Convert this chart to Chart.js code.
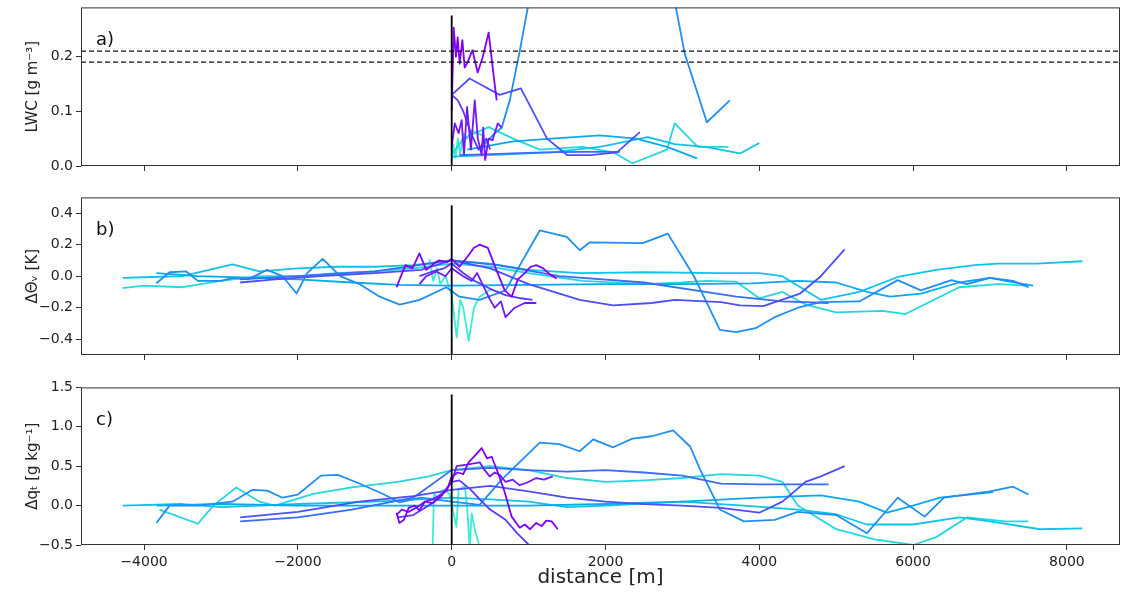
<!DOCTYPE html>
<html>
<head>
<meta charset="utf-8">
<script src="https://cdn.jsdelivr.net/npm/chart.js@4.4.0/dist/chart.umd.min.js"></script>
<style>
  body { margin: 0; background: #fff; overflow: hidden; }
  .panel { position: absolute; left: 0; }
</style>
</head>
<body>
<div class="panel" style="top:-4px"><canvas id="panelA" width="1122" height="194"></canvas></div>
<div class="panel" style="top:186px"><canvas id="panelB" width="1122" height="194"></canvas></div>
<div class="panel" style="top:376px"><canvas id="panelC" width="1122" height="216"></canvas></div>
<script>
// axes
const distMin = -4820, distMax = 8690;
const distTicks = [-4000, -2000, 0, 2000, 4000, 6000, 8000];
const lwcTicks = [0, 0.1, 0.2];
const thetaTicks = [-0.4, -0.2, 0, 0.2, 0.4];
const qTicks = [-0.5, 0, 0.5, 1.0, 1.5];
const lwcThresholds = [0.19, 0.21];

// colour position of each flight on the rainbow map
const flightShades = [0, 0.03, 0.07, 0.10, 0.14, 0.19, 0.23, 0.28, 0.32, 0.37];

// [distance m, value] per flight and panel
const f0Lwc = [[0,0.1],[26,0.253],[55,0.2],[78,0.235],[104,0.187],[139,0.23],[169,0.18],[208,0.19],[269,0.212],[338,0.171],[403,0.199],[481,0.244],[533,0.18],[585,0.12]];
const f0Theta = [[-716,-0.07],[-660,0.0],[-600,0.07],[-510,0.05],[-420,0.145],[-330,0.04],[-230,0.08],[-170,0.1],[-60,0.09],[0,0.11],[100,0.06],[200,0.12],[290,0.18],[364,0.2],[470,0.18],[580,0.04],[690,-0.09],[780,-0.13],[860,-0.02],[950,0.02],[1030,0.06],[1100,0.07],[1190,0.05],[1280,0.01],[1366,-0.015]];
const f0Q = [[-716,-0.09],[-680,-0.22],[-620,-0.18],[-560,-0.03],[-480,0.0],[-420,-0.06],[-350,0.05],[-250,0.03],[-150,0.12],[-60,0.2],[0,0.37],[80,0.42],[150,0.4],[220,0.55],[300,0.63],[390,0.73],[460,0.6],[520,0.62],[600,0.42],[680,0.2],[780,-0.14],[840,-0.22],[885,-0.28],[950,-0.24],[1020,-0.3],[1100,-0.22],[1170,-0.26],[1230,-0.19],[1300,-0.2],[1379,-0.3]];

const f1Lwc = [[0,0.035],[40,0.078],[90,0.06],[130,0.084],[160,0.02],[200,0.108],[250,0.03],[300,0.12],[340,0.05],[390,0.02],[410,0.07],[435,0.011],[480,0.05],[530,0.047],[600,0.078],[650,0.07]];
const f1Theta = [[-420,-0.05],[-330,0.0],[-200,0.03],[-80,0.0],[0,0.05],[150,0.0],[260,-0.03],[330,0.02],[400,-0.05],[500,-0.15],[560,-0.2],[640,-0.16],[700,-0.26],[820,-0.2],[950,-0.17],[1100,-0.17]];
const f1Q = [[-720,-0.12],[-650,-0.05],[-560,-0.08],[-450,-0.02],[-350,0.05],[-250,0.08],[-120,0.15],[0,0.3],[65,0.5],[200,0.52],[364,0.55],[430,0.45],[494,0.37],[560,0.42],[624,0.39],[700,0.3],[794,0.33],[880,0.26],[976,0.29],[1100,0.35],[1200,0.33],[1314,0.37]];

const f2Lwc = [[0,0.13],[80,0.12],[150,0.1],[250,0.06],[350,0.03],[450,0.05],[500,0.03]];
const f2Theta = [[-420,0.0],[-250,0.03],[-100,0.05],[0,0.08],[150,0.02],[300,-0.03],[500,-0.08],[700,-0.12],[900,-0.14],[1050,-0.15]];
const f2Q = [[-700,-0.15],[-500,-0.12],[-300,0.0],[-150,0.1],[0,0.3],[100,0.32],[250,0.2],[364,0.08],[500,-0.05],[700,-0.18],[850,-0.35],[976,-0.47],[1050,-0.55]];

const f3Lwc = [[0,0.13],[234,0.16],[364,0.15],[624,0.13],[900,0.142],[1240,0.05],[1500,0.02],[1800,0.02],[2150,0.025],[2446,0.062]];
const f3Theta = [[-2750,-0.04],[-2300,-0.02],[-1700,0.0],[-1000,0.02],[-400,0.04],[0,0.1],[500,0.05],[1000,-0.05],[1665,-0.15],[2100,-0.185],[2600,-0.17],[2900,-0.15],[3500,-0.165],[3750,-0.185],[4050,-0.19],[4530,-0.11],[4800,0.0],[5110,0.17]];
const f3Q = [[-2750,-0.15],[-2000,-0.08],[-1200,0.05],[-500,0.12],[0,0.2],[500,0.25],[1000,0.18],[1500,0.1],[2000,0.05],[2500,0.02],[3000,0.0],[3500,-0.03],[4000,-0.09],[4300,0.05],[4600,0.3],[4800,0.37],[5110,0.5]];

const f4Lwc = [[100,0.02],[600,0.022],[1200,0.025],[1700,0.026],[2186,0.026]];
const f4Theta = [[-2750,-0.02],[-2000,0.0],[-1000,0.03],[0,0.1],[600,0.07],[1400,0.0],[2500,-0.04],[3300,-0.1],[3700,-0.13],[4300,-0.16],[4900,-0.17]];
const f4Q = [[-2750,-0.2],[-2000,-0.15],[-1300,-0.05],[-500,0.1],[0,0.45],[500,0.48],[1000,0.45],[1500,0.43],[2000,0.45],[2500,0.42],[3000,0.38],[3500,0.28],[4000,0.27],[4900,0.27]];

const f5Lwc = [[364,0.03],[560,0.06],[650,0.07],[755,0.12],[885,0.21],[990,0.29],[1200,0.45],[2000,0.7],[2600,0.6],[2901,0.3],[3031,0.205],[3318,0.08],[3617,0.12]];
const f5Theta = [[-3840,-0.045],[-3670,0.025],[-3450,0.03],[-3300,-0.03],[-3000,-0.03],[-2850,-0.01],[-2650,-0.02],[-2400,0.04],[-2200,0.0],[-2017,-0.11],[-1880,0.02],[-1678,0.11],[-1450,0.0],[-1200,-0.05],[-937,-0.13],[-677,-0.18],[-416,-0.15],[-70,-0.07],[100,-0.13],[364,-0.15],[700,-0.09],[1145,0.29],[1496,0.25],[1665,0.165],[1795,0.215],[2485,0.21],[2810,0.27],[3150,0.0],[3487,-0.34],[3700,-0.355],[3950,-0.33],[4200,-0.26],[4500,-0.2],[4800,-0.165],[5300,-0.16],[5800,-0.025],[6100,-0.09],[6500,-0.025],[6700,-0.05],[7000,-0.01],[7300,-0.03],[7500,-0.07]];
const f5Q = [[-3840,-0.22],[-3669,0.0],[-3300,0.0],[-2850,0.05],[-2590,0.2],[-2400,0.19],[-2200,0.1],[-2000,0.14],[-1700,0.38],[-1480,0.39],[-1200,0.28],[-900,0.15],[-677,0.04],[-400,0.1],[0,0.05],[364,0.01],[650,0.33],[1145,0.8],[1400,0.78],[1665,0.69],[1840,0.84],[2100,0.74],[2350,0.85],[2600,0.88],[2880,0.955],[3100,0.75],[3230,0.46],[3487,-0.05],[3800,-0.2],[4200,-0.18],[4500,-0.08],[5000,-0.12],[5400,-0.35],[5800,0.1],[6150,-0.14],[6400,0.1],[7000,0.18],[7300,0.24],[7500,0.14]];

const f6Lwc = [[200,0.03],[800,0.045],[1300,0.05],[1925,0.056],[2400,0.05],[2800,0.035],[3190,0.014]];
const f6Theta = [[-3840,0.02],[-3300,0.0],[-2500,-0.01],[-2000,-0.02],[-1300,-0.04],[-677,-0.055],[0,-0.06],[1000,-0.055],[2000,-0.05],[3000,-0.05],[3900,-0.045],[4500,-0.03],[5000,-0.04],[5400,-0.1],[5700,-0.13],[6100,-0.11],[6600,-0.04],[7000,-0.01],[7200,-0.03],[7560,-0.06]];
const f6Q = [[-3840,0.0],[-3000,0.02],[-2000,0.0],[-1000,0.0],[0,0.0],[1000,0.0],[2000,0.02],[3000,0.05],[4000,0.1],[4800,0.13],[5300,0.05],[5660,-0.09],[6000,0.0],[6350,0.1],[7040,0.17]];

const f7Lwc = [[0,0.017],[500,0.02],[1300,0.025],[1925,0.035],[2550,0.053],[2900,0.04],[3300,0.035],[3750,0.023],[4000,0.042]];
const f7Theta = [[-4280,-0.01],[-3900,-0.005],[-3500,0.0],[-2850,0.075],[-2500,0.03],[-2000,0.05],[-1500,0.06],[-1000,0.06],[-500,0.07],[0,0.1],[500,0.08],[1000,0.04],[1665,0.02],[2500,0.025],[3500,0.02],[4000,0.02],[4300,0.0],[4800,-0.15],[5300,-0.1],[5800,-0.005],[6300,0.04],[6800,0.07],[7100,0.08],[7600,0.08],[8200,0.095]];
const f7Q = [[-4280,0.0],[-3500,0.02],[-3000,-0.02],[-2500,0.0],[-2000,0.02],[-1000,0.05],[0,0.1],[500,0.08],[1000,0.05],[1500,-0.02],[2000,0.0],[3000,0.05],[3800,0.0],[4500,-0.05],[5000,-0.11],[5400,-0.24],[6000,-0.24],[6600,-0.15],[7000,-0.2],[7650,-0.3],[8200,-0.29]];

const f8Lwc = [[0,0.02],[150,0.05],[300,0.06],[481,0.071],[800,0.05],[1145,0.03],[1700,0.035],[2100,0.025],[2350,0.005],[2800,0.03],[2900,0.078],[3200,0.035],[3600,0.035]];
const f8Theta = [[-4280,-0.075],[-4000,-0.06],[-3500,-0.07],[-3000,-0.03],[-2500,0.0],[-2000,0.0],[-1500,0.02],[-1000,0.03],[-500,0.05],[0,0.08],[500,0.06],[1000,0.02],[1700,-0.03],[2500,-0.05],[3000,-0.04],[3300,-0.03],[3700,-0.035],[4000,-0.14],[4300,-0.1],[4600,-0.18],[5000,-0.23],[5600,-0.22],[5900,-0.24],[6600,-0.07],[7100,-0.05],[7500,-0.06]];
const f8Q = [[-3800,-0.05],[-3300,-0.23],[-3100,0.0],[-2800,0.23],[-2500,0.05],[-2300,0.0],[-1800,0.15],[-1300,0.23],[-700,0.3],[-300,0.37],[0,0.45],[500,0.5],[1000,0.45],[1500,0.35],[2000,0.3],[2500,0.32],[3000,0.35],[3500,0.4],[4000,0.38],[4300,0.3],[4500,0.0],[5000,-0.3],[5500,-0.43],[6000,-0.5],[6300,-0.4],[6700,-0.15],[7200,-0.2],[7500,-0.2]];

const f9Lwc = [[0,0.01],[20,0.04],[50,0.015],[80,0.05],[110,0.02],[150,0.06],[200,0.05],[260,0.065],[330,0.06],[420,0.055]];
const f9Theta = [[-290,0.11],[-240,-0.03],[-190,0.05],[-150,-0.05],[-80,0.0],[0,-0.12],[65,-0.39],[110,-0.15],[150,-0.2],[221,-0.41],[290,-0.2],[364,-0.13],[520,-0.08]];
const f9Q = [[-250,-0.6],[-230,0.15],[-180,0.1],[-110,0.2],[-30,0.15],[60,-0.27],[90,0.2],[170,0.25],[200,0.0],[234,-0.55],[260,-0.1],[300,-0.3],[370,-0.55]];

const lwcLines = [f0Lwc, f1Lwc, f2Lwc, f3Lwc, f4Lwc, f5Lwc, f6Lwc, f7Lwc, f8Lwc, f9Lwc];
const thetaLines = [f0Theta, f1Theta, f2Theta, f3Theta, f4Theta, f5Theta, f6Theta, f7Theta, f8Theta, f9Theta];
const qLines = [f0Q, f1Q, f2Q, f3Q, f4Q, f5Q, f6Q, f7Q, f8Q, f9Q];

// x = 0 marker in each panel
const zeroA = [[0, 0], [0, 0.275]];
const zeroB = [[0, -0.5], [0, 0.45]];
const zeroC = [[0, -0.5], [0, 1.41]];

function rainbow(t) {
  const r = Math.round(255 * Math.abs(2 * t - 0.5));
  const g = Math.round(255 * Math.sin(Math.PI * t));
  const b = Math.round(255 * Math.cos(Math.PI * t / 2));
  return `rgb(${r},${g},${b})`;
}

const pts = arr => arr.map(([x, y]) => ({ x, y }));
const fmt = v => v.toFixed(1).replace('-', '\u2212');

function lineSets(lines) {
  return lines.map((l, i) => ({
    data: pts(l),
    borderColor: rainbow(flightShades[i]),
    borderWidth: 1.8,
    pointRadius: 0,
    tension: 0,
    borderJoinStyle: 'round'
  }));
}

function frameAndLabel(label) {
  return {
    id: 'frame',
    afterDatasetsDraw(chart) {
      const { ctx, chartArea: a } = chart;
      ctx.save();
      ctx.strokeStyle = '#333';
      ctx.lineWidth = 1;
      ctx.strokeRect(a.left + 0.5, a.top + 0.5, a.right - a.left - 1, a.bottom - a.top - 1);
      ctx.fillStyle = '#111';
      ctx.font = '18px "DejaVu Sans"';
      ctx.textBaseline = 'alphabetic';
      ctx.fillText(label, a.left + 15, a.top + 38);
      ctx.restore();
    }
  };
}

function makePanel(id, sets, yTicks, yMin, yMax, yTitle, label, bottomPanel) {
  const xHeight = bottomPanel ? 47 : (id === 'panelA' ? 24 : 25);
  new Chart(document.getElementById(id), {
    type: 'line',
    data: { datasets: sets },
    options: {
      responsive: false,
      animation: false,
      layout: { padding: { top: 4, right: 2, left: 0, bottom: 0 } },
      plugins: { legend: { display: false }, tooltip: { enabled: false } },
      scales: {
        x: {
          type: 'linear',
          min: distMin,
          max: distMax,
          afterBuildTicks: s => { s.ticks = distTicks.map(v => ({ value: v })); },
          afterFit: s => { s.height = xHeight; },
          border: { display: false },
          grid: { drawOnChartArea: false, drawTicks: true, tickLength: 5, color: '#333' },
          ticks: {
            display: bottomPanel,
            maxRotation: 0,
            padding: 4,
            color: '#222',
            font: { family: 'DejaVu Sans', size: 14 },
            callback: v => String(v).replace('-', '\u2212')
          },
          title: {
            display: bottomPanel,
            text: 'distance [m]',
            color: '#222',
            font: { family: 'DejaVu Sans', size: 20 },
            padding: { top: 0, bottom: 2 }
          }
        },
        y: {
          min: yMin,
          max: yMax,
          afterBuildTicks: s => { s.ticks = yTicks.map(v => ({ value: v })); },
          afterFit: s => { s.width = 81; },
          border: { display: false },
          grid: { drawOnChartArea: false, drawTicks: true, tickLength: 5, color: '#333' },
          ticks: {
            padding: 3,
            color: '#222',
            font: { family: 'DejaVu Sans', size: 14 },
            callback: v => fmt(v)
          },
          title: {
            display: true,
            text: yTitle,
            color: '#222',
            font: { family: 'DejaVu Sans', size: 15 },
            padding: { top: 24, bottom: 0 }
          }
        }
      }
    },
    plugins: [frameAndLabel(label)]
  });
}

const zeroSet = d => ({ data: pts(d), borderColor: '#000', borderWidth: 1.8, pointRadius: 0 });
const dashSet = v => ({
  data: [{ x: distMin, y: v }, { x: distMax, y: v }],
  borderColor: '#111', borderWidth: 1.4, borderDash: [5, 3], pointRadius: 0
});

makePanel('panelA',
  [zeroSet(zeroA), ...lwcThresholds.map(dashSet), ...lineSets(lwcLines)],
  lwcTicks, 0, 0.29, 'LWC [g m\u207B\u00B3]', 'a)', false);
makePanel('panelB',
  [zeroSet(zeroB), ...lineSets(thetaLines)],
  thetaTicks, -0.5, 0.5, '\u0394\u0398\u1D65 [K]', 'b)', false);
makePanel('panelC',
  [zeroSet(zeroC), ...lineSets(qLines)],
  qTicks, -0.5, 1.5, '\u0394q\u209C [g kg\u207B\u00B9]', 'c)', true);
</script>
</body>
</html>
